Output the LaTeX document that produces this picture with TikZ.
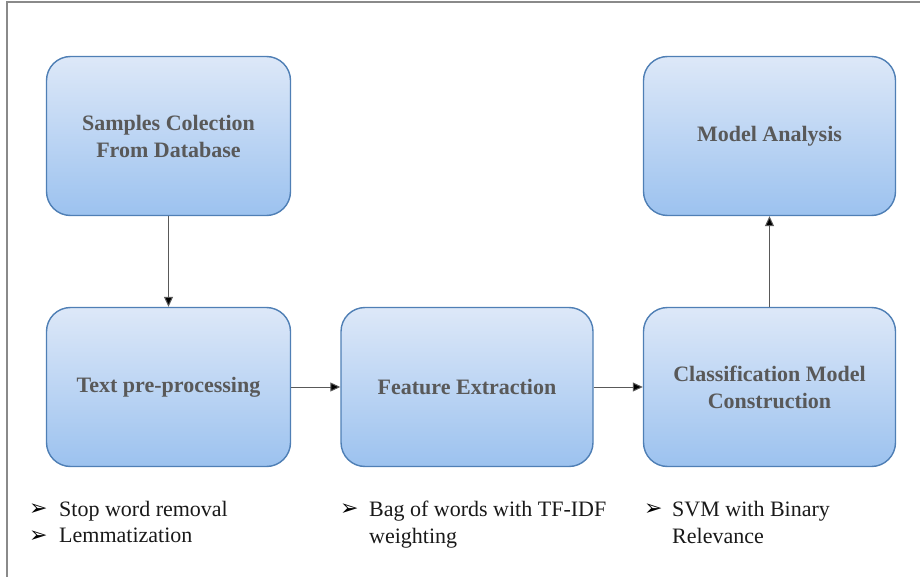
\documentclass[tikz,border=0pt]{standalone}
\usepackage{fontspec}
\setmainfont{Liberation Serif}
\newfontfamily\arrowfont{DejaVu Sans}
\usepackage{tikz}
\usetikzlibrary{arrows.meta}
\usetikzlibrary{positioning,calc}

\definecolor{boxtop}{HTML}{DDE8F8}
\definecolor{boxbot}{HTML}{9CC2EF}
\definecolor{boxedge}{HTML}{4F7FB5}
\definecolor{headtext}{HTML}{595959}
\definecolor{framegray}{HTML}{8A8A8A}

\tikzset{
  stagebox/.style={draw=boxedge, line width=1.4pt, rounded corners=24pt,
    top color=boxtop, bottom color=boxbot,
    minimum width=244pt, minimum height=159pt, inner sep=0pt,
    align=center, text=headtext,
    font=\fontsize{22}{27}\selectfont\bfseries},
  flow/.style={draw=black!65, line width=1pt,
    -{Triangle[length=10pt,width=9pt,fill=black]}},
  tick/.style={anchor=west, inner sep=0pt,
    font=\arrowfont\fontsize{22}{27}\selectfont},
  note/.style={anchor=north west, inner sep=0pt, align=left, text=black!90,
    font=\fontsize{22}{27}\selectfont}
}

\begin{document}
\begin{tikzpicture}[x=1pt,y=-1pt]
\useasboundingbox (0,0) rectangle (920,577);
% outer frame (only left and top edges show)
\draw [framegray, line width=1.5pt] (7,577) -- (7,2) -- (920,2);

% stages
\node [stagebox] (collect) at (168.5,136) {Samples Colection\\From Database};
\node [stagebox] (prep) at (168.5,387) {Text pre-processing};
\node [stagebox, minimum width=252pt] (feat) at (467,387) {Feature Extraction};
\node [stagebox, minimum width=252pt] (clf) at (769.5,387) {Classification Model\\Construction};
\node [stagebox, minimum width=252pt] (analysis) at (769.5,136) {Model Analysis};

% flow between stages
\draw [flow] (collect) -- (prep);
\draw [flow] (prep) -- (feat);
\draw [flow] (feat) -- (clf);
\draw [flow] (clf) -- (analysis);

% notes under the stages
\node [tick] (t1) at (29,510) {➢};
\node [note] (n1) at (59,501) {Stop word removal};
\node [tick] (t2) at (29,537) {➢};
\node [note] (n2) at (59,528) {Lemmatization};
\node [tick] (t3) at (340,510) {➢};
\node [note] (n3) at (369,501) {Bag of words with TF-IDF\\weighting};
\node [tick] (t4) at (644,510) {➢};
\node [note] (n4) at (672,501) {SVM with Binary\\Relevance};
\end{tikzpicture}
\end{document}
